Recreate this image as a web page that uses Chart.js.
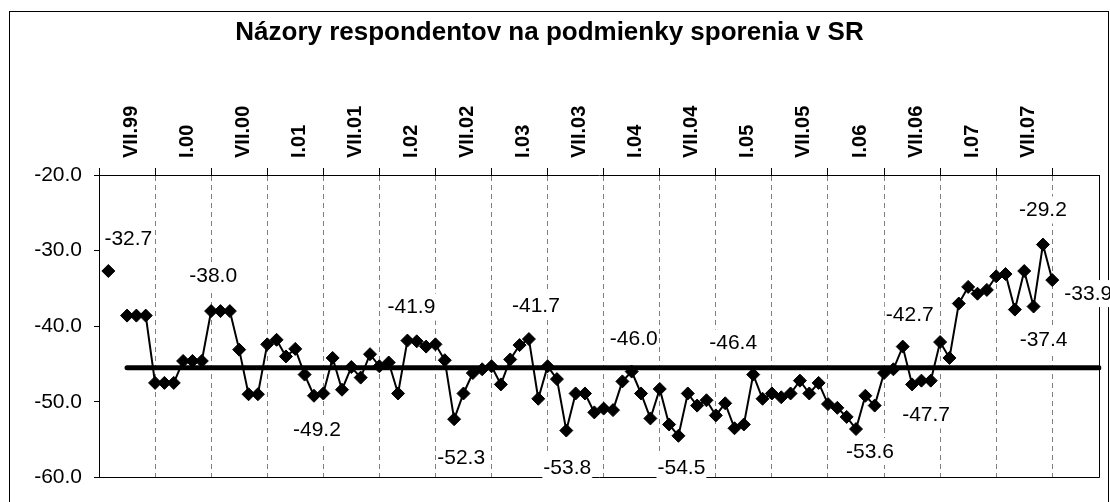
<!DOCTYPE html>
<html>
<head>
<meta charset="utf-8">
<script src="https://cdn.jsdelivr.net/npm/chart.js@4/dist/chart.umd.min.js"></script>
<style>
  html, body { margin: 0; padding: 0; background: #fff; }
  #wrap { width: 1110px; height: 502px; }
</style>
</head>
<body>
<div id="wrap"><canvas id="graf" width="1110" height="502"></canvas></div>
<script>
// mesiace I.99 - XII.07
const rimske = ['I','II','III','IV','V','VI','VII','VIII','IX','X','XI','XII'];
const roky = ['99','00','01','02','03','04','05','06','07'];
var mesiace = [];
for (let r = 0; r < roky.length; r++) {
    for (let m = 0; m < 12; m++) {
        mesiace.push(rimske[m] + '.' + roky[r]);
    }
}

// saldo odpovedi (od I.99)
const nazory = [
    null, -32.7, null, -38.6, -38.6, -38.6, -47.5, -47.5, -47.5, -44.6, -44.6, -44.6,
    -38.0, -38.0, -38.0, -43.1, -49.0, -49.0, -42.4, -41.8, -44.0, -43.0, -46.4, -49.2,
    -48.9, -44.2, -48.4, -45.4, -46.8, -43.7, -45.3, -44.8, -48.9, -41.9, -42.0, -42.7,
    -42.4, -44.5, -52.3, -48.9, -46.2, -45.7, -45.3, -47.7, -44.4, -42.5, -41.7, -49.6,
    -45.3, -47.0, -53.8, -48.9, -48.9, -51.4, -50.9, -51.1, -47.3, -46.0, -48.9, -52.2,
    -48.3, -53.0, -54.5, -48.9, -50.5, -49.8, -51.8, -50.2, -53.5, -53.0, -46.4, -49.6,
    -48.9, -49.4, -48.9, -47.2, -48.9, -47.5, -50.3, -50.8, -52.0, -53.6, -49.2, -50.5,
    -46.2, -45.7, -42.7, -47.7, -47.2, -47.2, -42.1, -44.2, -37.0, -34.8, -35.7, -35.2,
    -33.4, -33.1, -37.8, -32.7, -37.4, -29.2, -33.9, null, null, null, null, null
];
const priemer = -45.5;
const priemerOd = 3;

// body s popisom
const popisy = [1, 12, 23, 33, 38, 46, 50, 57, 62, 70, 81, 86, 87, 100, 101, 102];
// posun popisu od bodu [dx, dy]
const posuny = [[20,-33],[2,-36],[3,33],[4,-34],[7,38],[7,-34],[1,37],[2,-33],
                [3,31],[-20,-32],[14,22],[7,-32],[14,30],[10,33],[0,-35],[36,13]];

var priemerData = [];
for (let i = 0; i < mesiace.length; i++) {
    priemerData.push(i >= priemerOd ? priemer : null);
}

const pismo = "'Liberation Sans', Arial, sans-serif";

const ramik = {
    id: 'ramik',
    beforeDraw(chart) {
        const c = chart.ctx;
        c.save();
        c.fillStyle = '#fff';
        c.fillRect(0, 0, chart.width, chart.height);
        c.strokeStyle = '#000';
        c.lineWidth = 1;
        c.strokeRect(9.5, 11.5, 1099, 510);
        c.restore();
    },
    beforeDatasetsDraw(chart) {
        const a = chart.chartArea;
        const c = chart.ctx;
        c.save();
        c.strokeStyle = '#000';
        c.lineWidth = 1;
        c.beginPath();
        c.moveTo(Math.round(a.right) + 0.5, a.top);
        c.lineTo(Math.round(a.right) + 0.5, Math.round(a.bottom) + 0.5);
        c.lineTo(a.left, Math.round(a.bottom) + 0.5);
        c.stroke();
        c.restore();
    },
    afterDatasetsDraw(chart) {
        const meta = chart.getDatasetMeta(0);
        const c = chart.ctx;
        c.save();
        c.font = '21px ' + pismo;
        c.textAlign = 'center';
        c.textBaseline = 'middle';
        for (let k = 0; k < popisy.length; k++) {
            const bod = meta.data[popisy[k]];
            const x = bod.x + posuny[k][0];
            const y = bod.y + posuny[k][1];
            const txt = nazory[popisy[k]].toFixed(1);
            const w = c.measureText(txt).width;
            c.fillStyle = '#fff';
            c.fillRect(x - w / 2 - 1, y - 13, w + 2, 27);
            c.fillStyle = '#000';
            c.fillText(txt, x, y + 1);
        }
        c.restore();
    }
};

new Chart(document.getElementById('graf'), {
    type: 'line',
    data: {
        labels: mesiace,
        datasets: [{
            label: 'Názory',
            data: nazory,
            borderColor: '#000',
            borderWidth: 2,
            backgroundColor: '#000',
            pointStyle: 'rectRot',
            pointRadius: 6.5,
            pointBackgroundColor: '#000',
            pointBorderColor: '#000',
            pointBorderWidth: 1,
            spanGaps: false,
            tension: 0
        }, {
            label: 'Priemer',
            data: priemerData,
            borderColor: '#000',
            borderWidth: 5,
            borderCapStyle: 'round',
            pointRadius: 0,
            tension: 0
        }]
    },
    options: {
        responsive: false,
        animation: false,
        devicePixelRatio: 1,
        layout: { padding: { top: 0, left: 0, right: 11, bottom: 14 } },
        plugins: {
            legend: { display: false },
            tooltip: { enabled: false },
            title: {
                display: true,
                text: 'Názory respondentov na podmienky sporenia v SR',
                color: '#000',
                font: { family: pismo, size: 26, weight: 'bold', lineHeight: 1.2 },
                padding: { top: 17, bottom: 0 }
            }
        },
        scales: {
            x: {
                position: 'top',
                offset: false,
                afterFit: function (s) { s.height = 126.8; },
                border: { color: '#000', width: 1, dash: [5, 4] },
                grid: {
                    color: ctx => (ctx.index > 0 && ctx.index % 6 === 0) ? '#808080' : 'rgba(0,0,0,0)',
                    tickColor: ctx => (ctx.index % 6 === 0) ? '#000' : 'rgba(0,0,0,0)',
                    lineWidth: 1,
                    tickLength: 7,
                    drawOnChartArea: true
                },
                ticks: {
                    autoSkip: false,
                    minRotation: 90,
                    maxRotation: 90,
                    padding: 10,
                    color: '#000',
                    font: { family: pismo, size: 20, weight: 'bold' },
                    callback: function (v, i) {
                        return (i > 0 && i % 6 === 0) ? mesiace[i] : '';
                    }
                }
            },
            y: {
                min: -60,
                max: -20,
                afterFit: function (s) { s.width = 99; },
                border: { color: '#000', width: 1 },
                grid: {
                    drawOnChartArea: false,
                    tickLength: 5,
                    tickColor: '#000'
                },
                ticks: {
                    stepSize: 10,
                    padding: 12,
                    color: '#000',
                    font: { family: pismo, size: 21 },
                    callback: v => v.toFixed(1)
                }
            }
        }
    },
    plugins: [ramik]
});
</script>
</body>
</html>
